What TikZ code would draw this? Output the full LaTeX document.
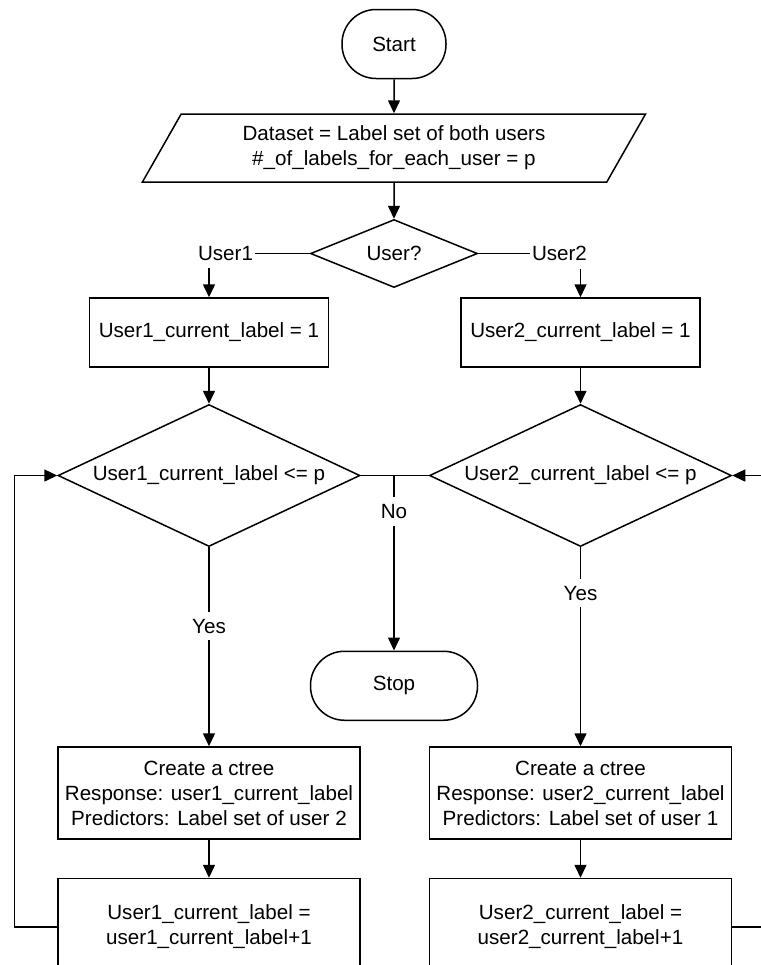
\documentclass[tikz,border=0pt]{standalone}
\usepackage{fontspec}
\setmainfont{Liberation Sans}
\usetikzlibrary{arrows.meta,positioning,shapes.geometric}

\begin{document}
\begin{tikzpicture}[line width=0.75pt, every node/.style={font=\fontsize{10.3}{12.5}\selectfont, align=center},
    procbox/.style={draw, rectangle, inner sep=0pt},
    decision/.style={draw, diamond, inner sep=0pt},
    terminal/.style={draw, rounded corners=17pt, minimum width=52pt, minimum height=34.5pt},
    lbl/.style={inner xsep=0.5pt, inner ysep=3.5pt},
    arr/.style={-{Triangle[length=6.5pt,width=6pt]}}]
    \useasboundingbox (0,0) rectangle (380.5pt,-482.5pt);
    \node[terminal] (start) at (197pt,-22pt) {Start};
    \node[draw, trapezium, trapezium left angle=63.4, trapezium right angle=116.6, trapezium stretches=true, minimum width=252pt, minimum height=34pt, below=17pt of start] (data) {Dataset = Label set of both users\\\#\_of\_labels\_for\_each\_user = p};
    \node[decision, aspect=2.45, minimum width=83.5pt, minimum height=34pt, below=18pt of data] (user) {User?};
    \node[lbl, left=27.5pt of user] (u1) {User1};
    \node[lbl, right=26pt of user] (u2) {User2};
    \node[procbox, minimum width=119.5pt, minimum height=34.5pt, below=4.5pt of user, xshift=-92.5pt] (init1) {User1\_current\_label = 1};
    \node[procbox, minimum width=119.5pt, minimum height=34.5pt, right=65.5pt of init1] (init2) {User2\_current\_label = 1};
    \node[decision, aspect=2.13, minimum width=151pt, minimum height=71pt, below=18pt of init1] (cond1) {User1\_current\_label <= p};
    \node[decision, aspect=2.13, minimum width=151pt, minimum height=71pt, below=18pt of init2] (cond2) {User2\_current\_label <= p};
    \coordinate (mid) at (cond1.east -| user);
    \node[terminal, minimum width=83.5pt, below=87.5pt of mid] (stop) {Stop};
    \node[procbox, minimum width=151pt, minimum height=46pt, below=99.5pt of cond1] (tree1) {Create a ctree\\Response: user1\_current\_label\\Predictors: Label set of user 2};
    \node[procbox, minimum width=151pt, minimum height=46pt, below=99.5pt of cond2] (tree2) {Create a ctree\\Response: user2\_current\_label\\Predictors: Label set of user 1};
    \node[procbox, minimum width=151pt, minimum height=48.5pt, below=19pt of tree1] (inc1) {User1\_current\_label =\\user1\_current\_label+1};
    \node[procbox, minimum width=151pt, minimum height=48.5pt, below=19pt of tree2] (inc2) {User2\_current\_label =\\user2\_current\_label+1};
    \draw[arr] (start) -- (data);
    \draw[arr] (data) -- (user);
    \draw (user) -- (u1);
    \draw (user) -- (u2);
    \draw[arr] (init1 |- u1.south) -- (init1);
    \draw[arr] (init2 |- u2.south) -- (init2);
    \draw[arr] (init1) -- (cond1);
    \draw[arr] (init2) -- (cond2);
    \draw (cond1) -- (cond2);
    \draw[arr] (mid) -- node[lbl, fill=white, pos=0.206] {No} (stop);
    \draw[arr] (cond1) -- node[lbl, fill=white, pos=0.397] {Yes} (tree1);
    \draw[arr] (cond2) -- node[lbl, fill=white, pos=0.231] {Yes} (tree2);
    \draw[arr] (tree1) -- (inc1);
    \draw[arr] (tree2) -- (inc2);
    \draw[arr] (inc1.west) -- ++(-21.5pt,0) |- (cond1.west);
    \draw[arr] (inc2.east) -- ++(21.5pt,0) |- (cond2.east);
\end{tikzpicture}
\end{document}
